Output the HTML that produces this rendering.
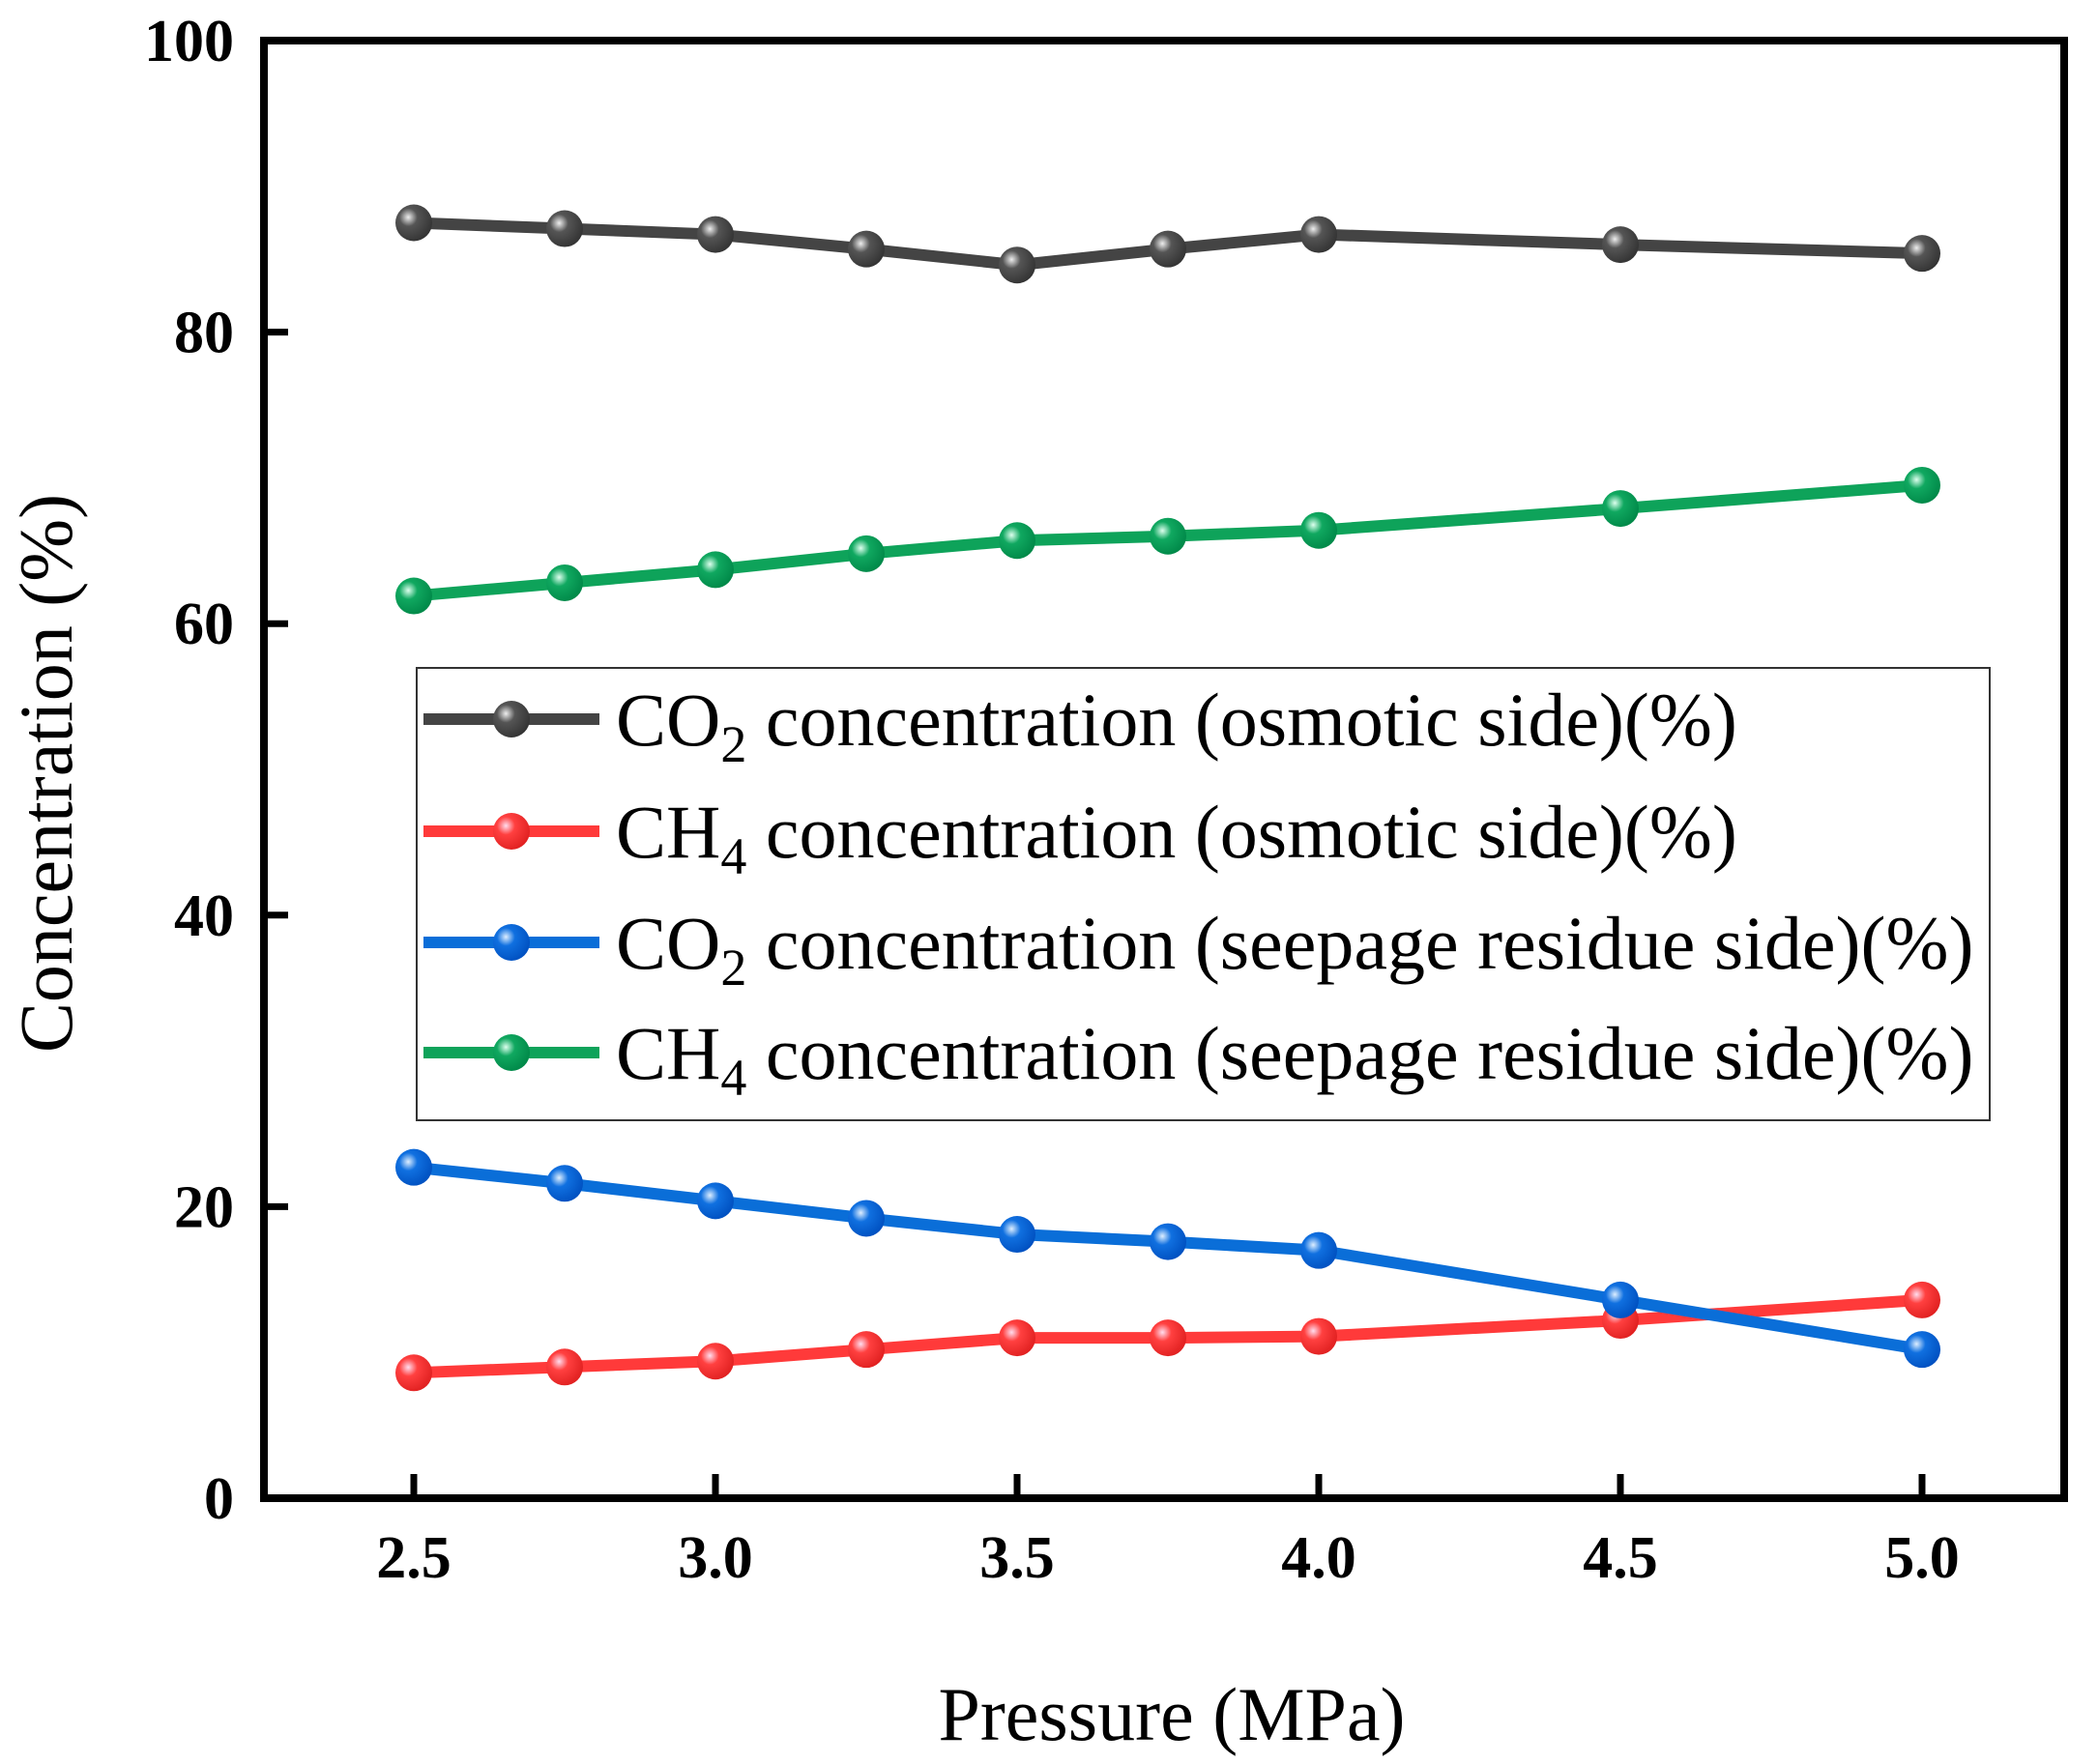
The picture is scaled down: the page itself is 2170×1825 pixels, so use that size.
<!DOCTYPE html>
<html><head><meta charset="utf-8"><style>
html,body{margin:0;padding:0;background:#fff}
svg{display:block}
</style></head><body>
<svg id="chart" width="2170" height="1825" viewBox="0 0 2170 1825" xmlns="http://www.w3.org/2000/svg">
<defs>
<radialGradient id="g-gray" cx="0.35" cy="0.35" r="0.7"><stop offset="0" stop-color="#eee"/><stop offset="0.35" stop-color="#555"/><stop offset="1" stop-color="#333"/></radialGradient>
<radialGradient id="g-red" cx="0.35" cy="0.35" r="0.7"><stop offset="0" stop-color="#fde"/><stop offset="0.35" stop-color="#ff4040"/><stop offset="1" stop-color="#e02020"/></radialGradient>
<radialGradient id="g-blue" cx="0.35" cy="0.35" r="0.7"><stop offset="0" stop-color="#def"/><stop offset="0.35" stop-color="#1070e0"/><stop offset="1" stop-color="#0050c0"/></radialGradient>
<radialGradient id="g-green" cx="0.35" cy="0.35" r="0.7"><stop offset="0" stop-color="#dfe"/><stop offset="0.35" stop-color="#10a860"/><stop offset="1" stop-color="#008848"/></radialGradient>
</defs>
<g id="plot"></g>
</svg>
<script>
const pressure = [2.5, 2.75, 3.0, 3.25, 3.5, 3.75, 4.0, 4.5, 5.0];
const co2Osmotic = [87.5, 87.1, 86.7, 85.7, 84.6, 85.7, 86.7, 86.0, 85.4];
const ch4Osmotic = [8.6, 9.0, 9.4, 10.2, 11.0, 11.0, 11.1, 12.2, 13.6];
const co2Residue = [22.7, 21.6, 20.4, 19.2, 18.1, 17.6, 17.0, 13.6, 10.2];
const ch4Residue = [61.9, 62.8, 63.7, 64.8, 65.7, 66.0, 66.4, 67.9, 69.5];
const xTicks = [2.5, 3.0, 3.5, 4.0, 4.5, 5.0];
const xTickLabels = ["2.5", "3.0", "3.5", "4.0", "4.5", "5.0"];
const yTicks = [0, 20, 40, 60, 80, 100];
const yTickLabels = ["0", "20", "40", "60", "80", "100"];

const NS = "http://www.w3.org/2000/svg";
const L = 273, R = 2135, T = 42, B = 1550;
const X = v => 428 + (v - 2.5) * (1988 - 428) / 2.5;
const Y = v => B - v * (B - T) / 100;
const g = document.getElementById('plot');
function mk(tag, attrs, parent) {
  const e = document.createElementNS(NS, tag);
  for (const k in attrs) e.setAttribute(k, attrs[k]);
  (parent || g).appendChild(e);
  return e;
}
const FONT = '"Liberation Serif", serif';

const frame = mk('rect', {x: L, y: T, width: R - L, height: B - T, fill: 'none', stroke: '#000', 'stroke-width': 8});



xTicks.forEach((v, i) => {
  const t = mk('line', {x1: X(v), x2: X(v), y1: B, y2: B - 25, stroke: '#000', 'stroke-width': 7});
  
  
  const tl = mk('text', {x: X(v), y: 1632, 'text-anchor': 'middle', 'font-family': FONT, 'font-weight': 'bold', 'font-size': 62});
  tl.textContent = xTickLabels[i];
  
  
});
yTicks.forEach((v, i) => {
  const t = mk('line', {x1: L, x2: L + 25, y1: Y(v), y2: Y(v), stroke: '#000', 'stroke-width': 7});
  
  
  const tl = mk('text', {x: 242, y: Y(v) + 21, 'text-anchor': 'end', 'font-family': FONT, 'font-weight': 'bold', 'font-size': 62});
  tl.textContent = yTickLabels[i];
  
  
});

const xt = mk('text', {x: 1212, y: 1800, 'text-anchor': 'middle', 'font-family': FONT, 'font-size': 78});
xt.textContent = 'Pressure (MPa)';


const yt = mk('text', {x: 0, y: 0, 'text-anchor': 'middle', 'font-family': FONT, 'font-size': 78, transform: 'translate(74,800) rotate(-90)'});
yt.textContent = 'Concentration (%)';



const series = [
  {vals: co2Osmotic, color: '#444', grad: 'g-gray', name: 'co2-osmotic'},
  {vals: ch4Residue, color: '#0ea35a', grad: 'g-green', name: 'ch4-residue'},
  {vals: ch4Osmotic, color: '#ff3a3a', grad: 'g-red', name: 'ch4-osmotic'},
  {vals: co2Residue, color: '#0a6ed8', grad: 'g-blue', name: 'co2-residue'}
];
series.forEach(s => {
  const pl = mk('polyline', {points: s.vals.map((v, i) => X(pressure[i]) + ',' + Y(v)).join(' '), fill: 'none', stroke: s.color, 'stroke-width': 12, 'stroke-linejoin': 'round'});
  
  
  s.vals.forEach((v, i) => {
    const c = mk('circle', {cx: X(pressure[i]), cy: Y(v), r: 19, fill: 'url(#' + s.grad + ')'});
    
    
  });
});

const lg = mk('g', {});


mk('rect', {x: 431, y: 691, width: 1627, height: 468, fill: '#fff', stroke: '#333', 'stroke-width': 2}, lg);
const entries = [
  {color: '#444', grad: 'g-gray', main: 'CO', sub: '2', rest: ' concentration (osmotic side)(%)', y: 744},
  {color: '#ff3a3a', grad: 'g-red', main: 'CH', sub: '4', rest: ' concentration (osmotic side)(%)', y: 860},
  {color: '#0a6ed8', grad: 'g-blue', main: 'CO', sub: '2', rest: ' concentration (seepage residue side)(%)', y: 975},
  {color: '#0ea35a', grad: 'g-green', main: 'CH', sub: '4', rest: ' concentration (seepage residue side)(%)', y: 1089}
];
entries.forEach(e => {
  const eg = mk('g', {}, lg);
  
  
  mk('line', {x1: 438, x2: 620, y1: e.y, y2: e.y, stroke: e.color, 'stroke-width': 12}, eg);
  mk('circle', {cx: 529, cy: e.y, r: 19, fill: 'url(#' + e.grad + ')'}, eg);
  const t = mk('text', {x: 637, y: e.y + 27, 'font-family': FONT, 'font-size': 78}, eg);
  const a = document.createElementNS(NS, 'tspan'); a.textContent = e.main; t.appendChild(a);
  const b = document.createElementNS(NS, 'tspan'); b.setAttribute('dy', '17'); b.setAttribute('font-size', '54'); b.textContent = e.sub; t.appendChild(b);
  const c = document.createElementNS(NS, 'tspan'); c.setAttribute('dy', '-17'); c.textContent = e.rest; t.appendChild(c);
});
</script>
</body></html>
